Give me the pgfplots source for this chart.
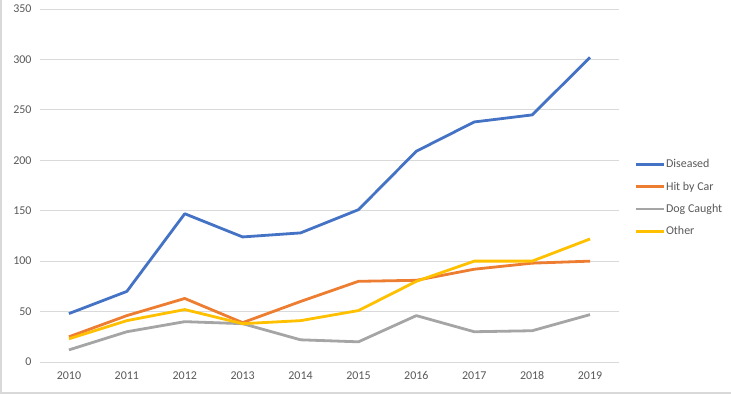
\documentclass[border=0pt]{standalone}
\usepackage{pgfplots}
\pgfplotsset{compat=1.18}
\usepackage{fontspec}
\setmainfont{Carlito}
\definecolor{cBlue}{HTML}{4472C4}
\definecolor{cOrange}{HTML}{ED7D31}
\definecolor{cGray}{HTML}{A5A5A5}
\definecolor{cGold}{HTML}{FFC000}
\definecolor{cText}{HTML}{595959}
\definecolor{cGrid}{HTML}{D9D9D9}
\begin{document}
\begin{tikzpicture}
\path[use as bounding box] (0,0) rectangle (731bp,395bp);
\draw[cGrid, line width=1.5bp] (0.75bp,395bp) -- (0.75bp,2bp) -- (731bp,2bp);
\begin{axis}[
  at={(40bp,33bp)}, anchor=south west,
  scale only axis, width=579bp, height=353bp,
  xmin=2009.5, xmax=2019.5, ymin=0, ymax=350,
  xtick={2010,2011,...,2019},
  xticklabels={2010,2011,2012,2013,2014,2015,2016,2017,2018,2019},
  minor xtick={2009.5,2010.5,...,2019.5},
  ytick={0,50,...,350},
  ymajorgrids, grid style={cGrid, line width=0.8bp},
  axis lines*=left,
  y axis line style={draw=none},
  x axis line style={cGrid, line width=0.8bp},
  major tick length=0pt,
  minor tick length=5bp,
  tick align=outside,
  minor x tick style={cGrid, line width=0.8bp},
  ytick style={draw=none},
  xtick style={draw=none},
  ticklabel style={font=\fontsize{12}{14}\selectfont, text=cText},
  /pgf/number format/assume math mode=true,
  xticklabel style={yshift=-6bp},
  yticklabel style={xshift=-5bp},
  legend style={at={(1.026,0.465)}, anchor=west, draw=none, fill=none,
    font=\fontsize{12}{14}\selectfont, text=cText, row sep=8.5bp,
    inner xsep=0pt, nodes={inner xsep=1bp}},
  legend cell align=left,
  legend image code/.code={\draw[#1] (0bp,0bp) -- (28bp,0bp);},
  every axis plot/.append style={line width=2.8bp, line join=round},
]
\addplot[cBlue] coordinates {(2010,48) (2011,70) (2012,147) (2013,124) (2014,128) (2015,151) (2016,209) (2017,238) (2018,245) (2019,302)};
\addlegendentry{Diseased}
\addplot[cOrange] coordinates {(2010,25) (2011,46) (2012,63) (2013,39) (2014,60) (2015,80) (2016,81) (2017,92) (2018,98) (2019,100)};
\addlegendentry{Hit by Car}
\addplot[cGray] coordinates {(2010,12) (2011,30) (2012,40) (2013,38) (2014,22) (2015,20) (2016,46) (2017,30) (2018,31) (2019,47)};
\addlegendentry{Dog Caught}
\addplot[cGold] coordinates {(2010,23) (2011,41) (2012,52) (2013,38) (2014,41) (2015,51) (2016,80) (2017,100) (2018,100) (2019,122)};
\addlegendentry{Other}
\end{axis}
\end{tikzpicture}
\end{document}
